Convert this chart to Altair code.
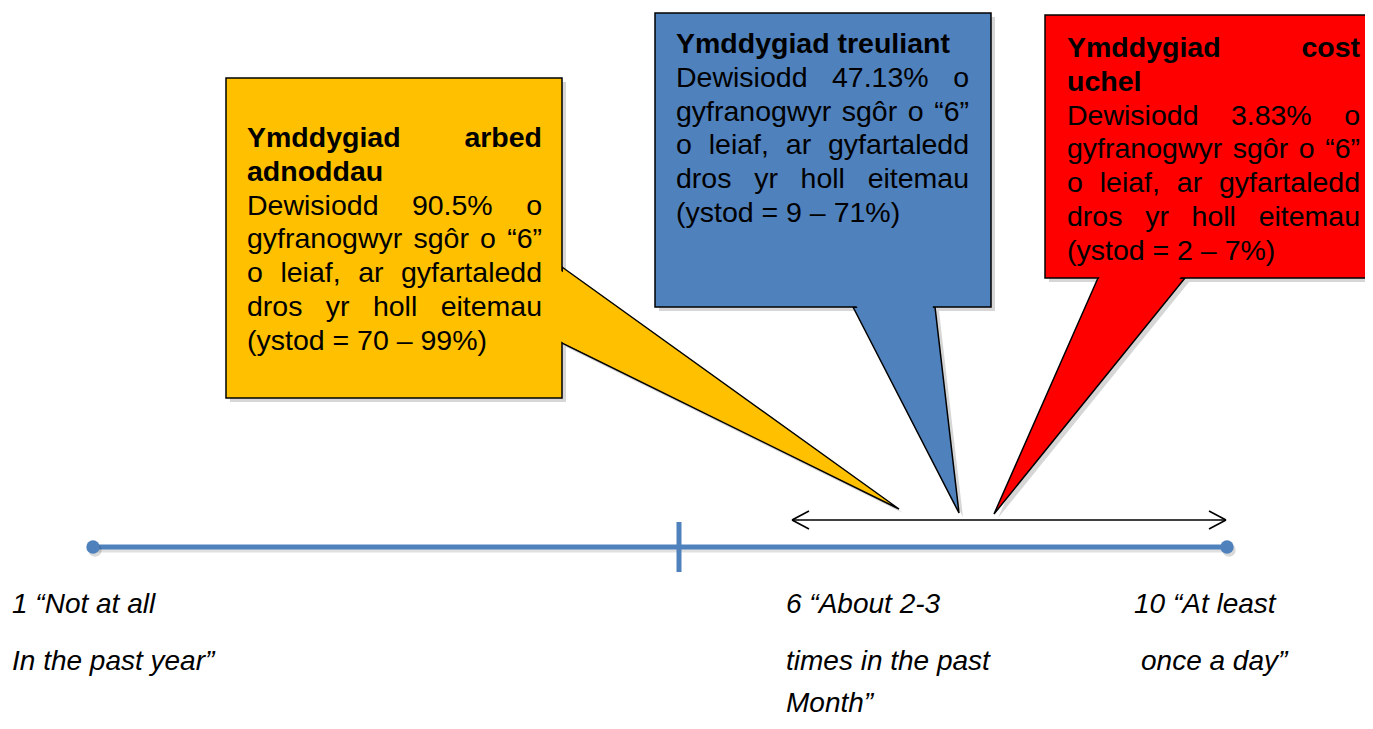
import altair as alt
import pandas as pd

# ---------------- data ----------------
behaviour_titles = [["Ymddygiad arbed", "adnoddau"],
                    ["Ymddygiad treuliant"],
                    ["Ymddygiad cost", "uchel"]]
pct_chose = [90.5, 47.13, 3.83]
range_low = [70, 9, 2]
range_high = [99, 71, 7]
box_colors = ["#FFC000", "#4F81BD", "#FF0000"]
scale_labels = [["1 “Not at all", "In the past year”"],
                ["6 “About 2-3", "times in the past", "Month”"],
                ["10 “At least", "once a day”"]]

# ---------------- layout (page pixels) ----------------
W, H = 1357, 713
BOX_FS = 28.5
LAB_FS = 28
LINE_STEP = 33.8
FONT = "Liberation Sans"
LINE_BLUE = "#4F81BD"

boxes = [
    dict(x0=226, y0=78, x1=562, y1=398, tx0=247, tx1=542, ty=138),
    dict(x0=655, y0=13, x1=991, y1=307, tx0=676, tx1=969, ty=44),
    dict(x0=1045, y0=15, x1=1390, y1=278, tx0=1067, tx1=1360, ty=48),
]
pointers = [
    dict(side="right", pos=562, a=267, b=343, tip=(899, 509)),
    dict(side="bottom", pos=307, a=853, b=935, tip=(959, 513)),
    dict(side="bottom", pos=278, a=1098, b=1185, tip=(994, 514)),
]
label_pos = [([12, 12], [605, 662]),
             ([786, 786, 786], [605, 662, 704]),
             ([1134, 1141], [605, 662])]

# Arial / Liberation Sans advance widths (1/1000 em)
REG = {" ": 278, "%": 889, "(": 333, ")": 333, ",": 278, "-": 333, ".": 278,
       "=": 584, "“": 333, "”": 333, "–": 556, "ô": 556,
       "D": 722, "Y": 667, "M": 833,
       "a": 556, "b": 556, "c": 500, "d": 556, "e": 556, "f": 278, "g": 556,
       "h": 556, "i": 222, "j": 222, "k": 500, "l": 222, "m": 833, "n": 556,
       "o": 556, "p": 556, "q": 556, "r": 333, "s": 500, "t": 278, "u": 556,
       "v": 500, "w": 722, "x": 500, "y": 500, "z": 500}
BOLD = {" ": 278, "Y": 667,
        "a": 556, "b": 611, "c": 556, "d": 611, "e": 556, "f": 333, "g": 611,
        "h": 611, "i": 278, "l": 278, "m": 889, "n": 611, "o": 611, "r": 389,
        "s": 556, "t": 333, "u": 611, "y": 556}


def tw(s, bold, size):
    tab = BOLD if bold else REG
    return sum(tab.get(c, 556) for c in s) * size / 1000.0


def place_line(text, bold, justify, x0, x1, y, size, rows):
    words = text.split(" ")
    widths = [tw(w, bold, size) for w in words]
    if justify and len(words) > 1:
        gap = (x1 - x0 - sum(widths)) / (len(words) - 1)
        gap = max(gap, tw(" ", bold, size))
        x = x0
        for w, wd in zip(words, widths):
            rows.append(dict(x=x, y=y, t=w, bold=bold))
            x += wd + gap
    else:
        rows.append(dict(x=x0, y=y, t=text, bold=bold))


word_rows = []
for i, bx in enumerate(boxes):
    body = [f"Dewisiodd {pct_chose[i]:g}% o",
            "gyfranogwyr sgôr o “6”",
            "o leiaf, ar gyfartaledd",
            "dros yr holl eitemau",
            f"(ystod = {range_low[i]} – {range_high[i]}%)"]
    y = bx["ty"]
    tl = behaviour_titles[i]
    for j, line in enumerate(tl):
        place_line(line, True, j < len(tl) - 1, bx["tx0"], bx["tx1"], y, BOX_FS, word_rows)
        y += LINE_STEP
    for j, line in enumerate(body):
        place_line(line, False, j < len(body) - 1, bx["tx0"], bx["tx1"], y, BOX_FS, word_rows)
        y += LINE_STEP
words_df = pd.DataFrame(word_rows)

lab_rows = []
for (lxs, lys), lines in zip(label_pos, scale_labels):
    for xx, yy, t in zip(lxs, lys, lines):
        lab_rows.append(dict(x=xx, y=yy, t=t))
labels_df = pd.DataFrame(lab_rows)

# ---------------- scales ----------------
xs = alt.Scale(domain=[8, 8 + W], nice=False, zero=False)
ys = alt.Scale(domain=[8, 8 + H], nice=False, zero=False, reverse=True)


def X(f):
    return alt.X(f, type="quantitative", scale=xs, axis=None)


def Y(f):
    return alt.Y(f, type="quantitative", scale=ys, axis=None)


layers = []

# shadows of boxes
box_df = pd.DataFrame([dict(**b, fill=c) for b, c in zip(boxes, box_colors)])
sh = box_df.copy()
for c in ["x0", "x1", "y0", "y1"]:
    sh[c] = sh[c] + 4
layers.append(alt.Chart(sh).mark_rect(color="#000000", opacity=0.16).encode(
    x=X("x0"), x2="x1", y=Y("y0"), y2="y1"))


def pointer_points(p, shrink=0.0, inset=0.0, t_end=1.0, off=0.0):
    tx, ty = p["tip"]
    if p["side"] == "right":
        xb = p["pos"] - inset
        a, b = p["a"] + shrink, p["b"] - shrink
        xe = p["pos"] + t_end * (tx - p["pos"])
        ae = p["a"] + t_end * (ty - p["a"]) + (shrink if t_end < 1 else 0)
        be = p["b"] + t_end * (ty - p["b"]) - (shrink if t_end < 1 else 0)
        return pd.DataFrame([dict(k=xb + off, v=a + off, v2=b + off),
                             dict(k=xe + off, v=ae + off, v2=be + off)])
    else:
        yb = p["pos"] - inset
        a, b = p["a"] + shrink, p["b"] - shrink
        ye = p["pos"] + t_end * (ty - p["pos"])
        ae = p["a"] + t_end * (tx - p["a"]) + (shrink if t_end < 1 else 0)
        be = p["b"] + t_end * (tx - p["b"]) - (shrink if t_end < 1 else 0)
        return pd.DataFrame([dict(k=yb + off, v=a + off, v2=b + off),
                             dict(k=ye + off, v=ae + off, v2=be + off)])


def area_layer(p, df, **mark):
    if p["side"] == "right":
        return alt.Chart(df).mark_area(orient="vertical", **mark).encode(
            x=X("k"), y=Y("v"), y2="v2")
    return alt.Chart(df).mark_area(orient="horizontal", **mark).encode(
        y=Y("k"), x=X("v"), x2="v2")


# pointer shadows
for p in pointers:
    layers.append(area_layer(p, pointer_points(p, off=4), color="#000000", opacity=0.16))
# pointers
for p, c in zip(pointers, box_colors):
    layers.append(area_layer(p, pointer_points(p), fill=c, stroke="black",
                             strokeWidth=1.5, strokeJoin="miter"))
# boxes
layers.append(alt.Chart(box_df).mark_rect(stroke="black", strokeWidth=1.5).encode(
    x=X("x0"), x2="x1", y=Y("y0"), y2="y1",
    fill=alt.Fill("fill:N", scale=None)))
# cover junctions between pointers and boxes
for p, c in zip(pointers, box_colors):
    layers.append(area_layer(p, pointer_points(p, shrink=2.5, inset=3, t_end=0.5),
                             fill=c, strokeWidth=0))

# box texts
layers.append(alt.Chart(words_df[words_df.bold]).mark_text(
    align="left", baseline="middle", font=FONT, fontSize=BOX_FS,
    fontWeight="bold", color="black").encode(x=X("x"), y=Y("y"), text="t:N"))
layers.append(alt.Chart(words_df[~words_df.bold]).mark_text(
    align="left", baseline="middle", font=FONT, fontSize=BOX_FS,
    color="black").encode(x=X("x"), y=Y("y"), text="t:N"))

# double arrow
arrow_df = pd.DataFrame([
    dict(x=792, y=520, x2=1226, y2=520),
    dict(x=792, y=520, x2=809, y2=511), dict(x=792, y=520, x2=809, y2=529),
    dict(x=1226, y=520, x2=1209, y2=511), dict(x=1226, y=520, x2=1209, y2=529),
])
layers.append(alt.Chart(arrow_df).mark_rule(color="black", strokeWidth=1.6).encode(
    x=X("x"), y=Y("y"), x2="x2", y2="y2"))

# main scale line with shadow
line_df = pd.DataFrame([dict(x=93, x2=1227, y=547)])
layers.append(alt.Chart(line_df.assign(y=550)).mark_rule(
    color="#000000", opacity=0.12, strokeWidth=5).encode(x=X("x"), x2="x2", y=Y("y")))
layers.append(alt.Chart(line_df).mark_rule(color=LINE_BLUE, strokeWidth=5).encode(
    x=X("x"), x2="x2", y=Y("y")))
tick_df = pd.DataFrame([dict(x=679, y=522, y2=572)])
layers.append(alt.Chart(tick_df).mark_rule(color=LINE_BLUE, strokeWidth=5).encode(
    x=X("x"), y=Y("y"), y2="y2"))
dots_df = pd.DataFrame([dict(x=93, y=547), dict(x=1227, y=547)])
layers.append(alt.Chart(dots_df.assign(x=dots_df.x + 2, y=dots_df.y + 3)).mark_circle(
    color="#000000", opacity=0.15, size=180).encode(x=X("x"), y=Y("y")))
layers.append(alt.Chart(dots_df).mark_circle(color=LINE_BLUE, opacity=1, size=180).encode(
    x=X("x"), y=Y("y")))

# scale labels
layers.append(alt.Chart(labels_df).mark_text(
    align="left", baseline="middle", font=FONT, fontSize=LAB_FS,
    fontStyle="italic", color="black").encode(x=X("x"), y=Y("y"), text="t:N"))

chart = alt.layer(*layers).properties(
    width=W, height=H, padding=0,
    autosize=alt.AutoSizeParams(type="none"),
).configure_view(stroke=None)

chart.save("out.html", embed_options={"renderer": "svg", "actions": False})
